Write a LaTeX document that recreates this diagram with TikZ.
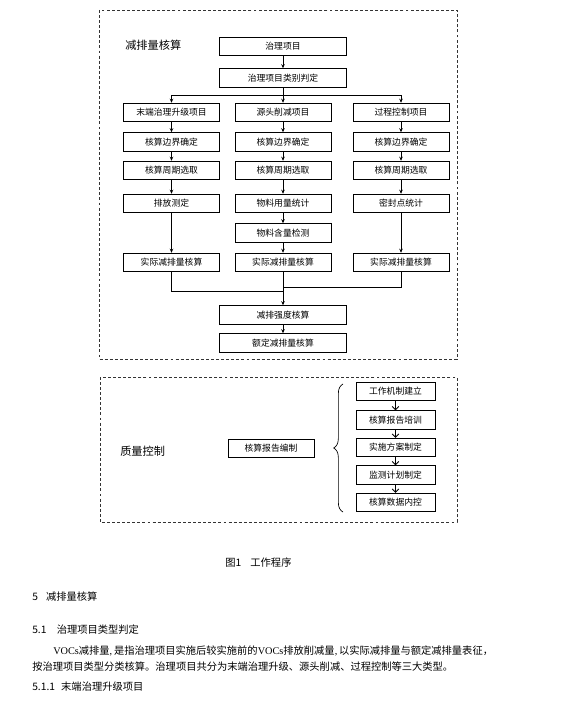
\documentclass[tikz,border=0pt]{standalone}
\usepackage{fontspec}
\setmainfont{Liberation Serif}
\newfontfamily\cjk{Noto Sans CJK SC}
\usetikzlibrary{arrows.meta, calc, positioning, decorations.pathreplacing}

\tikzset{
  stepbox/.style={draw, line width=0.6pt, inner sep=0pt, minimum height=14pt,
    font=\cjk\fontsize{6.6}{8}\selectfont},
  wide/.style={stepbox, minimum width=95.25pt},
  col/.style={stepbox, minimum width=72pt},
  qbox/.style={stepbox, minimum width=59.25pt},
  flow/.style={line width=0.6pt, -{Stealth[length=3pt, width=2.6pt]}},
  vee/.style={line width=0.6pt, -{Straight Barb[length=2.5pt, width=5pt]}},
  frame/.style={line width=0.7pt, black!80, dash pattern=on 2.2pt off 1.6pt},
  body/.style={anchor=west, inner sep=0pt, font=\cjk\fontsize{7.7}{9}\selectfont},
  lbl/.style={anchor=west, inner sep=0pt, font=\cjk\fontsize{8.4}{10}\selectfont},
}

\begin{document}
\begin{tikzpicture}[x=0.75pt, y=-0.75pt]
  \useasboundingbox (0,0) rectangle (580,702);

  % emission reduction accounting
  \draw[frame] (99,10) rectangle (457,359);
  \node[lbl] (calcLbl) at (125,45) {减排量核算};

  \node[wide] (proj) at (283,46.5) {治理项目};
  \node[wide] (judge) at (283,78) {治理项目类别判定};

  \node[col] (endA) at (171.5,112.5) {末端治理升级项目};
  \node[col] (srcA) at (283,112.5) {源头削减项目};
  \node[col] (prcA) at (401,112.5) {过程控制项目};

  \node[col] (endB) at (171.5,142) {核算边界确定};
  \node[col] (srcB) at (283,142) {核算边界确定};
  \node[col] (prcB) at (401,142) {核算边界确定};

  \node[col] (endC) at (171.5,170.5) {核算周期选取};
  \node[col] (srcC) at (283,170.5) {核算周期选取};
  \node[col] (prcC) at (401,170.5) {核算周期选取};

  \node[col] (endD) at (171.5,203.5) {排放测定};
  \node[col] (srcD) at (283,203.5) {物料用量统计};
  \node[col] (prcD) at (401,203.5) {密封点统计};

  \node[col] (srcE) at (283,233) {物料含量检测};

  \node[col] (endF) at (171.5,262.5) {实际减排量核算};
  \node[col] (srcF) at (283,262.5) {实际减排量核算};
  \node[col] (prcF) at (401,262.5) {实际减排量核算};

  \node[wide] (intens) at (283,315) {减排强度核算};
  \node[wide] (rated) at (283,343) {额定减排量核算};

  \draw[flow] (proj) -- (judge);
  \coordinate (split) at (283,95);
  \draw[line width=0.6pt] (judge) -- (split);
  \draw[flow] (split) -| (endA);
  \draw[flow] (split) -- (srcA);
  \draw[flow] (split) -| (prcA);

  \draw[flow] (endA) -- (endB);
  \draw[flow] (endB) -- (endC);
  \draw[flow] (endC) -- (endD);
  \draw[flow] (endD) -- (endF);

  \draw[flow] (srcA) -- (srcB);
  \draw[flow] (srcB) -- (srcC);
  \draw[flow] (srcC) -- (srcD);
  \draw[flow] (srcD) -- (srcE);
  \draw[flow] (srcE) -- (srcF);

  \draw[flow] (prcA) -- (prcB);
  \draw[flow] (prcB) -- (prcC);
  \draw[flow] (prcC) -- (prcD);
  \draw[flow] (prcD) -- (prcF);

  \coordinate (joinL) at (283,291);
  \coordinate (joinR) at (283,287);
  \draw[line width=0.6pt] (endF) |- (joinL);
  \draw[line width=0.6pt] (prcF) |- (joinR);
  \draw[flow] (srcF) -- (intens);
  \draw[flow] (intens) -- (rated);

  % quality control
  \draw[frame] (100,377) rectangle (457,522);
  \node[lbl] (qcLbl) at (120,451) {质量控制};
  \node[stepbox, minimum width=64.5pt] (report) at (271,448.5) {核算报告编制};
  \draw[line width=0.5pt, decorate, decoration={brace, amplitude=7pt}]
    (343,512) -- (343,384);

  \node[qbox] (mech) at (395.5,391.5) {工作机制建立};
  \node[qbox] (train) at (395.5,420) {核算报告培训};
  \node[qbox] (plan) at (395.5,447.5) {实施方案制定};
  \node[qbox] (monitor) at (395.5,475) {监测计划制定};
  \node[qbox] (ctrl) at (395.5,502.5) {核算数据内控};
  \draw[vee] (mech) -- (train);
  \draw[vee] (train) -- (plan);
  \draw[vee] (plan) -- (monitor);
  \draw[vee] (monitor) -- (ctrl);

  % caption and text
  \node[body] (cap) at (225,563) {图1\hspace{0.9em}工作程序};
  \node[body] (sec5) at (32,597) {5\hspace{0.8em}减排量核算};
  \node[body] (sec51) at (32,630) {5.1\hspace{1em}治理项目类型判定};
  \node[body] (para1) at (53,651) {{\rmfamily VOCs}减排量{\rmfamily,\,}是指治理项目实施后较实施前的{\rmfamily VOCs}排放削减量{\rmfamily,\,}以实际减排量与额定减排量表征，};
  \node[body] (para2) at (32,667) {按治理项目类型分类核算。治理项目共分为末端治理升级、源头削减、过程控制等三大类型。};
  \node[body] (sec511) at (32,687) {5.1.1\hspace{0.6em}末端治理升级项目};
\end{tikzpicture}
\end{document}
